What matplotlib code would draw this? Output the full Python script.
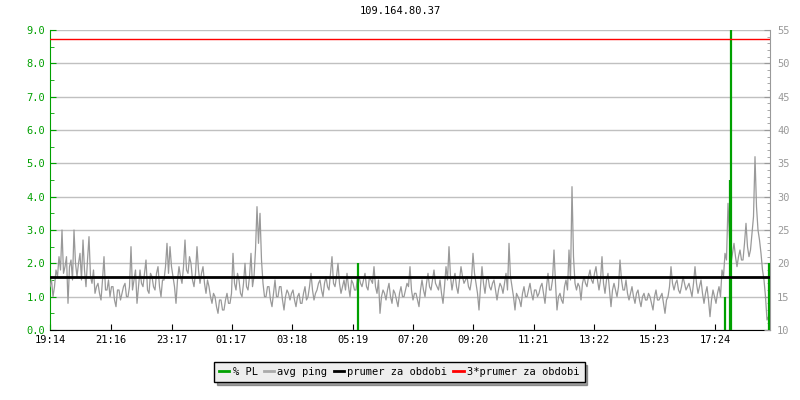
import numpy as np
import matplotlib
matplotlib.use("Agg")
import matplotlib.pyplot as plt
from matplotlib.ticker import MultipleLocator, FormatStrFormatter
from matplotlib.lines import Line2D

plt.rcParams['font.family'] = ['DejaVu Sans Mono']
plt.rcParams['font.size'] = 7.5

#%% data (minutes from 19:14)

title = "109.164.80.37"
step_min = 6

# avg ping [ms], samples at 0, 6, 12, ... min
ping_a = [
    16.5, 15.0, 19.0, 21.0, 25.0, 19.5, 14.0, 20.5, 25.0, 18.0,
    21.5, 23.5, 16.5, 24.0, 17.0, 15.5, 17.0, 14.5, 21.0, 16.0,
    15.0, 16.5, 13.5, 16.0, 15.5, 17.0, 15.0, 22.5, 17.5, 14.0,
    19.0, 16.5, 20.5, 15.5, 18.0, 16.0, 19.5, 15.0, 17.5, 23.0,
    22.5, 18.0, 14.0, 19.5, 17.0, 23.5, 18.5, 20.0, 16.5, 22.5,
    17.0, 19.5, 15.5, 16.5, 14.0, 15.0, 12.5, 14.5, 13.0, 15.5,
    14.0, 21.5, 16.0, 17.5, 15.0, 20.0, 16.0, 21.5, 18.0, 28.5,
    27.5, 17.0, 15.0, 16.5, 13.5, 17.5, 15.0, 16.5, 13.0, 16.0,
    14.5, 16.0, 13.5, 15.5, 14.0, 16.5, 15.0, 18.5, 14.5, 16.0,
    17.5, 15.0, 18.0, 16.0, 21.0, 16.5, 20.0, 15.5, 17.5, 18.5,
    15.0, 17.0, 16.0, 18.0, 16.5, 18.5, 16.0, 17.5, 19.5, 15.5,
    12.5, 16.0, 14.5, 17.0, 14.0, 15.5, 13.5, 16.5, 15.0, 17.0,
    19.5, 14.5, 15.5, 13.5, 17.5, 15.0, 18.5, 16.0, 19.0, 16.5,
    17.5, 14.0, 19.5, 22.5, 16.0, 18.5, 15.5, 19.5, 17.0, 18.0,
    16.0, 21.5, 17.0, 13.0, 19.5, 15.5, 18.0, 16.0, 17.5, 14.5,
    17.0, 15.5, 18.5, 23.0, 16.5, 13.0, 15.0, 13.5, 16.5, 15.0,
    17.0, 14.5, 16.0, 15.5, 17.0, 14.0, 18.5, 16.0, 22.0, 13.0,
    15.5, 14.0, 17.5, 22.0, 31.5, 17.0, 17.0, 14.5, 18.0, 16.5,
    19.0, 17.0, 19.5, 16.0, 21.0, 15.5, 18.5, 13.5, 17.0, 15.0,
    20.5, 16.0, 17.5, 14.5, 16.5, 14.0, 16.0, 13.5, 15.5, 14.5,
    15.0, 13.0, 16.0, 14.5, 15.5, 12.5, 15.0, 19.5, 16.0, 17.5,
    15.5, 18.0, 16.0, 17.0, 15.0, 19.5, 15.5, 17.5, 14.0, 16.5,
    12.0, 16.0, 14.0, 16.5, 19.0, 21.5, 29.0, 20.0, 23.0, 19.5,
    22.0, 20.5, 26.0, 21.0, 24.5, 36.0, 25.0, 21.5, 17.5, 11.5,
]
# avg ping [ms], samples at 3, 9, 15, ... min
ping_b = [
    17.5, 16.5, 18.0, 19.0, 18.5, 21.0, 19.5, 17.5, 20.0, 20.0,
    17.5, 19.0, 20.5, 18.0, 19.0, 16.5, 15.5, 17.5, 16.0, 17.5,
    16.5, 14.5, 16.0, 14.5, 16.5, 15.0, 16.5, 16.0, 19.0, 16.5,
    17.0, 18.5, 16.0, 18.5, 16.5, 18.5, 16.5, 17.5, 19.5, 18.5,
    19.5, 16.5, 17.5, 18.0, 19.5, 19.0, 21.0, 17.5, 18.5, 19.0,
    18.5, 17.0, 17.5, 15.0, 15.5, 13.5, 14.5, 13.0, 14.5, 14.0,
    15.5, 17.0, 18.5, 15.5, 17.0, 16.5, 18.0, 16.5, 22.0, 23.0,
    20.5, 15.0, 16.5, 14.5, 15.5, 15.0, 16.5, 14.5, 15.0, 15.5,
    15.5, 14.5, 15.0, 14.0, 15.5, 14.5, 16.5, 16.0, 15.5, 17.0,
    16.0, 17.0, 16.5, 18.5, 17.0, 18.0, 17.0, 16.5, 16.0, 16.5,
    17.5, 16.0, 18.0, 17.0, 17.5, 16.5, 18.0, 17.0, 16.5, 17.5,
    15.0, 15.5, 16.0, 15.0, 16.0, 14.5, 15.5, 15.0, 16.0, 16.5,
    16.0, 15.5, 14.5, 16.0, 16.0, 17.0, 16.5, 17.5, 17.0, 16.0,
    15.5, 16.5, 17.5, 18.0, 17.5, 16.5, 17.5, 18.0, 17.5, 16.5,
    17.5, 18.5, 15.5, 16.5, 17.0, 17.5, 16.5, 17.0, 16.0, 16.0,
    16.5, 17.0, 16.0, 18.0, 15.0, 15.5, 14.5, 15.5, 15.0, 16.0,
    15.5, 16.0, 15.0, 16.5, 15.5, 16.5, 16.0, 17.5, 17.0, 15.0,
    14.5, 16.5, 16.0, 17.5, 21.0, 16.0, 16.5, 17.0, 17.0, 18.0,
    17.5, 18.5, 17.5, 17.5, 17.0, 17.5, 16.0, 16.0, 16.0, 16.5,
    17.5, 16.0, 15.5, 15.5, 15.0, 15.5, 14.5, 15.0, 14.5, 15.5,
    14.0, 15.0, 14.5, 15.0, 14.0, 14.5, 16.5, 17.0, 17.0, 16.0,
    16.5, 17.0, 16.5, 16.0, 17.0, 17.0, 16.5, 15.5, 15.5, 14.5,
    14.5, 15.0, 15.5, 15.0, 18.0, 20.5, 24.0, 21.5, 21.0, 21.0,
    20.5, 23.0, 22.5, 22.0, 27.0, 28.5, 23.5, 19.0, 15.0, 12.0,
]
ping_mean = 17.9

# packet loss, only the non-zero samples
pl_min = [616, 1350, 1360, 1362, 1438]
pl_pct = [2.0, 1.0, 4.5, 100.0, 2.0]

tick_min = [0, 122, 243, 363, 484, 605, 726, 846, 967, 1088, 1209, 1330]
tick_lbl = ["19:14", "21:16", "23:17", "01:17", "03:18", "05:19",
            "07:20", "09:20", "11:21", "13:22", "15:23", "17:24"]

#%% plot

t_a = np.arange(len(ping_a)) * step_min
t = np.column_stack([t_a, t_a + step_min / 2]).ravel()
ping = np.column_stack([ping_a, ping_b]).ravel()

fig = plt.figure(figsize=(8, 4), dpi=100)
ax = fig.add_axes([0.0625, 0.175, 0.9, 0.75])
ax2 = ax.twinx()

green = "#00a000"
gray = "#999999"

ax.set_xlim(0, 1440)
ax.set_ylim(0, 9)
ax2.set_ylim(10, 55)

ax.yaxis.set_major_locator(MultipleLocator(1))
ax.yaxis.set_minor_locator(MultipleLocator(0.5))
ax.yaxis.set_major_formatter(FormatStrFormatter("%.1f"))
ax.grid(axis='y', color="#c0c0c0", lw=1)
ax.set_axisbelow(True)
ax.set_xticks(tick_min, tick_lbl)

ax.tick_params(axis='y', which='both', direction='in', colors=green)
ax.tick_params(axis='y', which='major', length=4)
ax.tick_params(axis='y', which='minor', length=3)
ax.tick_params(axis='x', direction='in', length=4, colors='black')

ax2.yaxis.set_major_locator(MultipleLocator(5))
ax2.yaxis.set_minor_locator(MultipleLocator(1))
ax2.tick_params(axis='y', which='both', direction='in', colors=gray)
ax2.tick_params(axis='y', which='major', length=4, pad=5)
ax2.tick_params(axis='y', which='minor', length=2)

for a in (ax, ax2):
    a.spines['top'].set_visible(False)
ax.spines['right'].set_visible(False)
ax2.spines['left'].set_visible(False)
ax2.spines['bottom'].set_visible(False)
ax.spines['left'].set_color(green)
ax.spines['bottom'].set_color('black')
ax2.spines['right'].set_color(gray)

ax2.plot(t, ping, color=gray, lw=0.9, zorder=2)
ax2.vlines(pl_min, 0, pl_pct, color=green, lw=1.6, zorder=3,
           transform=ax.transData)
ax2.axhline(ping_mean, color='black', lw=2, zorder=4)
ax2.axhline(3 * ping_mean, color='red', lw=1, zorder=4)

fig.suptitle(title, y=0.985, fontsize=7.5)

handles = [Line2D([], [], color=green, lw=2),
           Line2D([], [], color="#aaaaaa", lw=2),
           Line2D([], [], color='black', lw=2),
           Line2D([], [], color='red', lw=2)]
labels = ["% PL", "avg ping", "prumer za obdobi", "3*prumer za obdobi"]
leg = fig.legend(handles, labels, loc='center', bbox_to_anchor=(0.499, 0.07),
                 ncol=4, frameon=True, fancybox=False, shadow=True,
                 handlelength=1.0, handletextpad=0.3, columnspacing=0.6,
                 borderpad=0.5, fontsize=7.5)
leg.get_frame().set_edgecolor('black')
leg.get_frame().set_facecolor('#eeeeee')
leg.get_frame().set_linewidth(1)

fig.savefig("out.png", dpi=100)
